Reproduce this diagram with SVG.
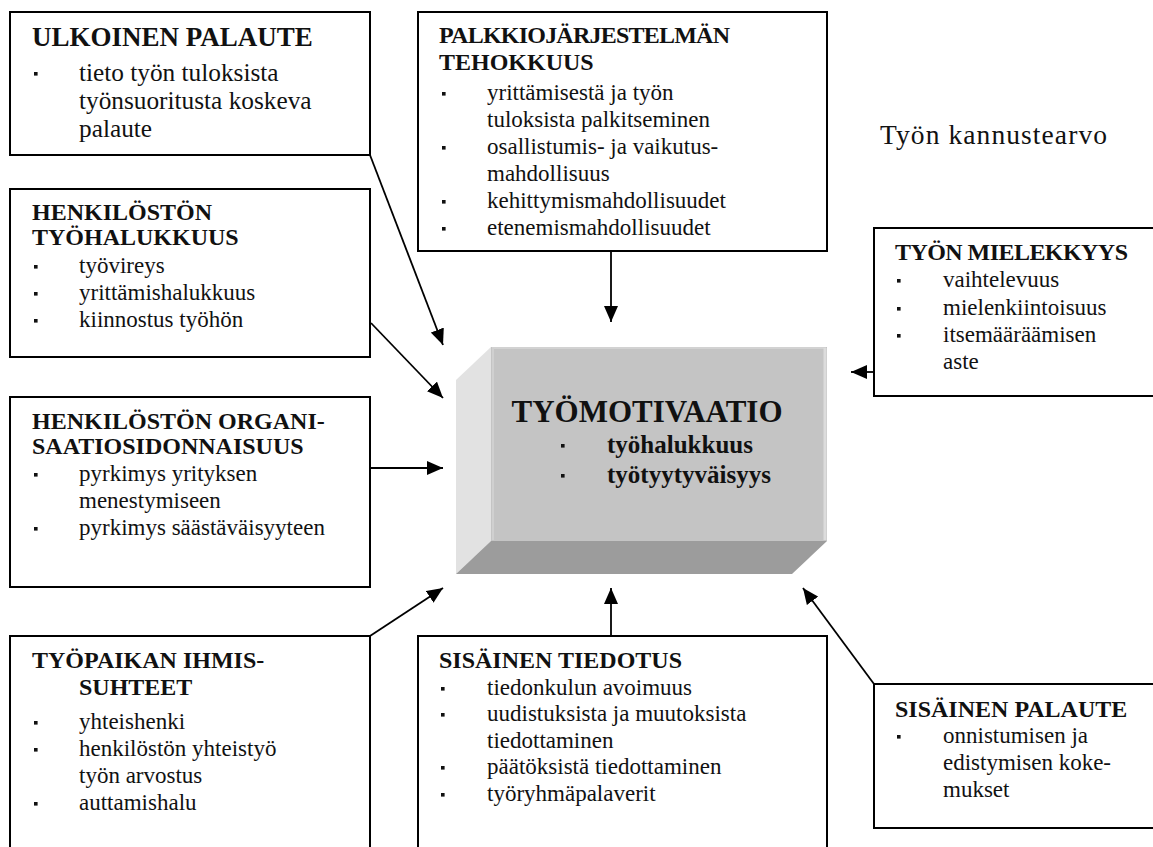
<svg xmlns="http://www.w3.org/2000/svg" xmlns:xlink="http://www.w3.org/1999/xlink" width="1153" height="847" viewBox="0 0 1153 847">
<style>
text { font-family: "Liberation Serif", "Times New Roman", serif; fill: #111; }
.t { font-size: 24px; font-weight: bold; }
.b { font-size: 23px; }
.t1 { font-size: 27px; font-weight: bold; }
.b1 { font-size: 25.3px; }
.box { fill: #fff; stroke: #000; stroke-width: 2; }
.con { stroke: #000; stroke-width: 1.8; fill: none; marker-end: url(#ah); }
</style>
<defs>
<marker id="ah" markerUnits="userSpaceOnUse" markerWidth="18" markerHeight="14" refX="16" refY="7" orient="auto">
<path d="M0,0 L16,7 L0,14 Z" fill="#000"/>
</marker>
<rect id="bl" width="3.6" height="3.6" fill="#111"/>
</defs>
<rect width="1153" height="847" fill="#fff"/>

<g id="connectors">
<line class="con" x1="370" y1="155" x2="443" y2="345"/>
<line class="con" x1="371" y1="323" x2="443" y2="398"/>
<line class="con" x1="371" y1="468" x2="443" y2="468"/>
<line class="con" x1="370" y1="636" x2="443" y2="588"/>
<line class="con" x1="611" y1="636" x2="611" y2="588"/>
<line class="con" x1="874" y1="684" x2="803" y2="588"/>
<line class="con" x1="874" y1="372" x2="851" y2="372"/>
<line class="con" x1="611" y1="251" x2="611" y2="322"/>
</g>

<g id="center">
<polygon points="491,347 456,380 456,574 491,541" fill="#e2e2e2"/>
<polygon points="491,541 827,541 792,574 456,574" fill="#9c9c9c"/>
<rect x="491" y="347" width="336" height="194" fill="#c4c4c4"/>
<line x1="492" y1="348" x2="826" y2="348" stroke="#d2d2d2" stroke-width="2"/>
<line x1="825" y1="348" x2="825" y2="540" stroke="#dcdcdc" stroke-width="3"/>
<line x1="493" y1="348" x2="493" y2="540" stroke="#d0d0d0" stroke-width="2"/>
<text x="647" y="422" text-anchor="middle" font-size="31" font-weight="bold">TYÖMOTIVAATIO</text>
<use xlink:href="#bl" x="561" y="444"/>
<text x="607" y="453" font-size="25" font-weight="bold">työhalukkuus</text>
<use xlink:href="#bl" x="561" y="474"/>
<text x="607" y="483" font-size="25" font-weight="bold">työtyytyväisyys</text>
</g>

<g id="ulkoinen-palaute">
<rect class="box" x="10" y="12" width="360" height="143"/>
<text class="t1" x="32" y="46">ULKOINEN PALAUTE</text>
<use xlink:href="#bl" x="34" y="72"/>
<text class="b1" x="79" y="81">tieto työn tuloksista</text>
<text class="b1" x="79" y="109">työnsuoritusta koskeva</text>
<text class="b1" x="79" y="137">palaute</text>
</g>

<g id="henkiloston-tyohalukkuus">
<rect class="box" x="10" y="189" width="360" height="168"/>
<text class="t" x="32" y="220">HENKILÖSTÖN</text>
<text class="t" x="32" y="245">TYÖHALUKKUUS</text>
<use xlink:href="#bl" x="34" y="265"/>
<text class="b" x="79" y="273">työvireys</text>
<use xlink:href="#bl" x="34" y="292"/>
<text class="b" x="79" y="300">yrittämishalukkuus</text>
<use xlink:href="#bl" x="34" y="319"/>
<text class="b" x="79" y="327">kiinnostus työhön</text>
</g>

<g id="henkiloston-organisaatiosidonnaisuus">
<rect class="box" x="10" y="397" width="360" height="190"/>
<text class="t" x="32" y="429">HENKILÖSTÖN ORGANI-</text>
<text class="t" x="32" y="454">SAATIOSIDONNAISUUS</text>
<use xlink:href="#bl" x="34" y="473"/>
<text class="b" x="79" y="481">pyrkimys yrityksen</text>
<text class="b" x="79" y="508">menestymiseen</text>
<use xlink:href="#bl" x="34" y="527"/>
<text class="b" x="79" y="535">pyrkimys säästäväisyyteen</text>
</g>

<g id="tyopaikan-ihmissuhteet">
<rect class="box" x="10" y="636" width="360" height="230"/>
<text class="t" x="32" y="668">TYÖPAIKAN IHMIS-</text>
<text class="t" x="79" y="695">SUHTEET</text>
<use xlink:href="#bl" x="34" y="721"/>
<text class="b" x="79" y="729">yhteishenki</text>
<use xlink:href="#bl" x="34" y="748"/>
<text class="b" x="79" y="756">henkilöstön yhteistyö</text>
<text class="b" x="79" y="783">työn arvostus</text>
<use xlink:href="#bl" x="34" y="802"/>
<text class="b" x="79" y="810">auttamishalu</text>
</g>

<g id="sisainen-tiedotus">
<rect class="box" x="418" y="636" width="409" height="230"/>
<text class="t" x="439" y="668">SISÄINEN TIEDOTUS</text>
<use xlink:href="#bl" x="441" y="687"/>
<text class="b" x="487" y="695">tiedonkulun avoimuus</text>
<use xlink:href="#bl" x="441" y="713"/>
<text class="b" x="487" y="721">uudistuksista ja muutoksista</text>
<text class="b" x="487" y="748">tiedottaminen</text>
<use xlink:href="#bl" x="441" y="766"/>
<text class="b" x="487" y="774">päätöksistä tiedottaminen</text>
<use xlink:href="#bl" x="441" y="793"/>
<text class="b" x="487" y="801">työryhmäpalaverit</text>
</g>

<g id="sisainen-palaute">
<rect class="box" x="874" y="684" width="300" height="144"/>
<text class="t" x="895" y="717">SISÄINEN PALAUTE</text>
<use xlink:href="#bl" x="897" y="735"/>
<text class="b" x="943" y="743">onnistumisen ja</text>
<text class="b" x="943" y="770">edistymisen koke-</text>
<text class="b" x="943" y="797">mukset</text>
</g>

<g id="tyon-mielekkyys">
<rect class="box" x="874" y="228" width="300" height="168"/>
<text class="t" x="895" y="260" textLength="233" lengthAdjust="spacing">TYÖN MIELEKKYYS</text>
<use xlink:href="#bl" x="897" y="279"/>
<text class="b" x="943" y="287">vaihtelevuus</text>
<use xlink:href="#bl" x="897" y="307"/>
<text class="b" x="943" y="315">mielenkiintoisuus</text>
<use xlink:href="#bl" x="897" y="334"/>
<text class="b" x="943" y="342">itsemääräämisen</text>
<text class="b" x="943" y="369">aste</text>
</g>

<g id="palkkiojarjestelman-tehokkuus">
<rect class="box" x="418" y="12" width="409" height="239"/>
<text class="t" x="439" y="43" textLength="291" lengthAdjust="spacing">PALKKIOJÄRJESTELMÄN</text>
<text class="t" x="439" y="70">TEHOKKUUS</text>
<use xlink:href="#bl" x="442" y="92"/>
<text class="b" x="487" y="100">yrittämisestä ja työn</text>
<text class="b" x="487" y="127">tuloksista palkitseminen</text>
<use xlink:href="#bl" x="442" y="146"/>
<text class="b" x="487" y="154">osallistumis- ja vaikutus-</text>
<text class="b" x="487" y="181">mahdollisuus</text>
<use xlink:href="#bl" x="442" y="200"/>
<text class="b" x="487" y="208">kehittymismahdollisuudet</text>
<use xlink:href="#bl" x="442" y="227"/>
<text class="b" x="487" y="235">etenemismahdollisuudet</text>
</g>

<g id="label">
<text x="880" y="144" font-size="27.5" textLength="227" lengthAdjust="spacing">Työn kannustearvo</text>
</g>
</svg>
